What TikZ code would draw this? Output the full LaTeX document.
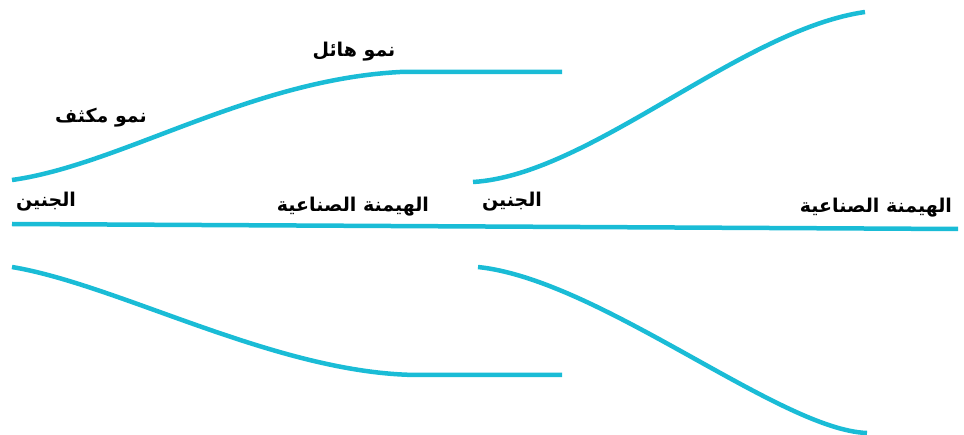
\documentclass[tikz,border=0pt]{standalone}
\usepackage{fontspec}
\TeXXeTstate=1
\newfontfamily\arabicfont[Script=Arabic]{DejaVu Sans}
\definecolor{curvecol}{RGB}{26,188,214}
\tikzset{
  curve/.style={draw=curvecol, line width=4.5pt},
  lbl/.style={font=\arabicfont\bfseries\fontsize{19}{22}\selectfont, inner sep=0pt}
}
\begin{document}
\begin{tikzpicture}[x=1pt, y=-1pt]
\useasboundingbox (0,0) rectangle (964,435);
% axis
\draw[curve] (12,224) -- (958,229);
% top-left curve
\draw[curve] (12,180) .. controls (120,165) and (250,80) .. (400,72) -- (562,72);
% bottom-left curve
\draw[curve] (12,267) .. controls (120,285) and (280,375) .. (420,375) -- (562,375);
% top-right curve
\draw[curve] (473,182) .. controls (590,175) and (740,30) .. (865,12);
% bottom-right curve
\draw[curve] (478,267) .. controls (600,280) and (780,430) .. (867,433);
% labels
\node[lbl] (rapid) at (354,52) {\beginR نمو هائل\endR};
\node[lbl] (intense) at (101,118) {\beginR نمو مكثف\endR};
\node[lbl] (embryoL) at (46,202) {\beginR الجنين\endR};
\node[lbl] (domL) at (353,207) {\beginR الهيمنة الصناعية\endR};
\node[lbl] (embryoR) at (512,202) {\beginR الجنين\endR};
\node[lbl] (domR) at (876,208) {\beginR الهيمنة الصناعية\endR};
\end{tikzpicture}
\end{document}
